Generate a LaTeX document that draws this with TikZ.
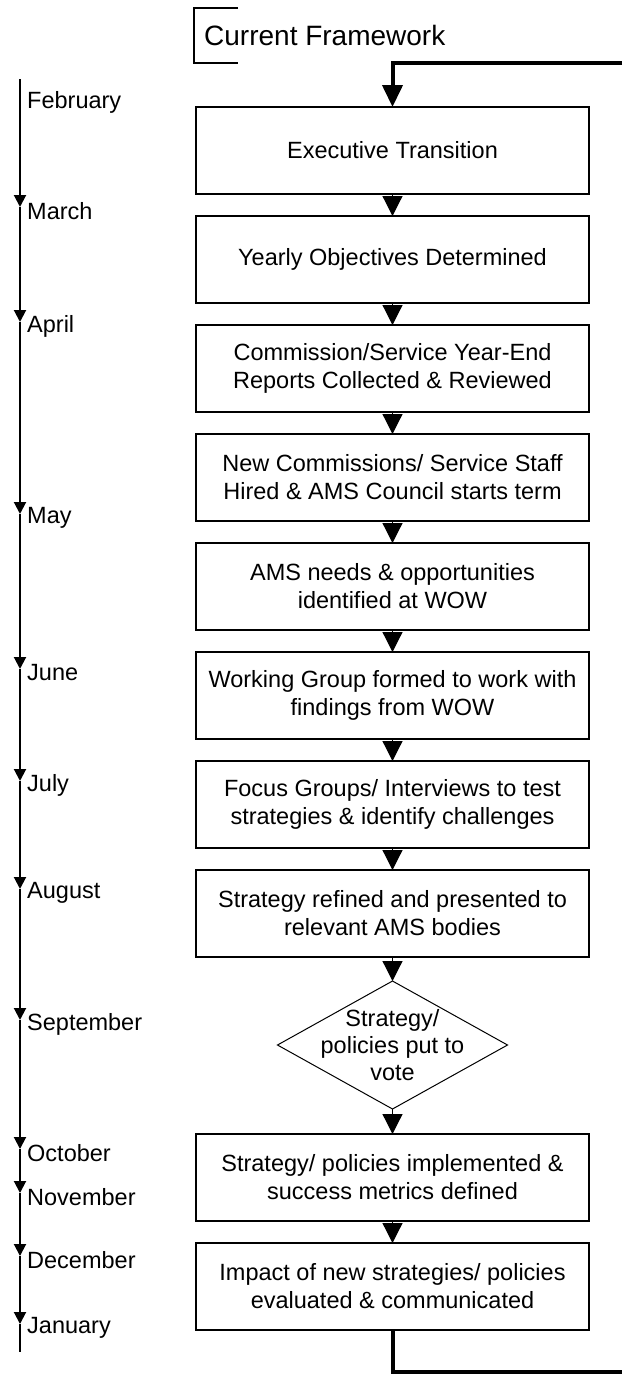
\documentclass[tikz,border=0pt]{standalone}
\usepackage{fontspec}
\setmainfont{Liberation Sans}
\usetikzlibrary{shapes.geometric}
\usetikzlibrary{arrows.meta}
\usetikzlibrary{positioning}

\newcommand{\flowfont}{\fontsize{23.5}{28}\selectfont}
\newcommand{\titlefont}{\fontsize{28}{32}\selectfont}

\begin{document}
\begin{tikzpicture}[x=1pt,y=-1pt,node distance=22pt,
	stagebox/.style={draw,rectangle,line width=1.2pt,minimum width=393pt,minimum height=87pt,align=center,font=\flowfont,inner sep=2pt,outer sep=0pt},
	votebox/.style={draw,diamond,line width=1pt,minimum width=230pt,minimum height=128pt,inner sep=0pt,outer sep=0pt},
	monthlabel/.style={anchor=west,inner sep=0pt,font=\flowfont},
	flowarrow/.style={line width=1.2pt,-{Triangle[width=20pt,length=20pt]}},
	looparrow/.style={line width=4pt},
	tickarrow/.style={line width=2pt,-{Triangle[width=12pt,length=12pt]}}]
	
		\useasboundingbox (0,0) rectangle (622,1374);
	
		% title with its bracket
		\node (title) at (204,35) [anchor=west,inner sep=0pt,font=\titlefont] {Current Framework};
		\draw[line width=1.2pt] (238,8) -- (194,8) -- (194,63) -- (238,63);
	
		% draw months along the time line
		\foreach \mon/\ypos [count=\i] in {February/102,March/211,April/326,May/518,June/673,July/785,August/893,September/1024,October/1153,November/1197,December/1260,January/1328}
		{
			\node (month-\i) at (27,\ypos) [monthlabel] {\mon};
			\coordinate (tick-\i) at (20,\ypos-4);
		}
		
		% draw time line
		\coordinate (line-top) at (20,79);
		\coordinate (line-end) at (20,1352);
		\draw[tickarrow] (line-top) -- (tick-2);
		\foreach \i [remember=\i as \j (initially 2)] in {3,...,12}
		{
			\draw[tickarrow] (tick-\j) -- (tick-\i);
		}
		\draw[line width=2pt] (tick-12) -- (line-end);
	
		% draw the stages
		\node (s1) at (392.5,150.5) [stagebox] {Executive Transition};
		\node (s2) [stagebox,below=of s1] {Yearly Objectives Determined};
		\node (s3) [stagebox,below=of s2] {Commission/Service Year-End\\Reports Collected \& Reviewed};
		\node (s4) [stagebox,below=of s3] {New Commissions/ Service Staff\\Hired \& AMS Council starts term};
		\node (s5) [stagebox,below=of s4] {AMS needs \& opportunities\\identified at WOW};
		\node (s6) [stagebox,below=of s5] {Working Group formed to work with\\findings from WOW};
		\node (s7) [stagebox,below=of s6] {Focus Groups/ Interviews to test\\strategies \& identify challenges};
		\node (s8) [stagebox,below=of s7] {Strategy refined and presented to\\relevant AMS bodies};
		
		% draw the vote (text is wider than the diamond)
		\node (vote) [votebox,below=24pt of s8] {};
		\node (vote-text) at (vote.center) [align=center,inner sep=0pt,font=\fontsize{23.5}{27}\selectfont] {Strategy/\\policies put to\\vote};
		
		\node (s9) [stagebox,below=25pt of vote] {Strategy/ policies implemented \&\\success metrics defined};
		\node (s10) [stagebox,below=of s9] {Impact of new strategies/ policies\\evaluated \& communicated};
		
		% draw arrows between the stages
		\foreach \a/\b in {s1/s2,s2/s3,s3/s4,s4/s5,s5/s6,s6/s7,s7/s8,s8/vote,vote/s9,s9/s10}
		{
			\draw[flowarrow] (\a) -- (\b);
		}
		
		% draw loop back to the top
		\coordinate (loop-in) at (622,63);
		\coordinate (loop-out) at (622,1372);
		\draw[looparrow,-{Triangle[width=20pt,length=22pt]}] (loop-in) -| (s1.north);
		\draw[looparrow] (s10.south) |- (loop-out);
	\end{tikzpicture}
\end{document}
